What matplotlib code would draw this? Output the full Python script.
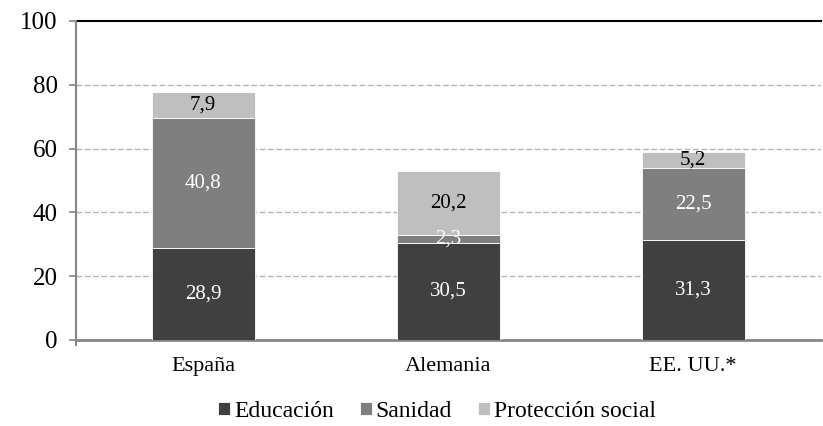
import matplotlib.pyplot as plt
import numpy as np

paises = ["España", "Alemania", "EE. UU.*"]
educacion = [28.9, 30.5, 31.3]
sanidad = [40.8, 2.3, 22.5]
proteccion = [7.9, 20.2, 5.2]
series = ["Educación", "Sanidad", "Protección social"]
yticks = [0, 20, 40, 60, 80, 100]

plt.rcParams['font.family'] = ['Liberation Serif', 'DejaVu Serif']

fig = plt.figure(figsize=(8.23, 4.26), dpi=100)
ax = fig.add_axes([0.092, 0.202, 0.905, 0.749])

x = np.arange(len(paises))
w = 0.42
colores = ["#404040", "#7f7f7f", "#bfbfbf"]
txtcol = ["white", "white", "black"]

bottom = np.zeros(len(paises))
bars = []
for vals, c, tc, name in zip([educacion, sanidad, proteccion], colores, txtcol, series):
    b = ax.bar(x, vals, w, bottom=bottom, color=c, edgecolor="white", linewidth=0.6, label=name, zorder=3)
    bars.append(b)
    for xi, v, bt in zip(x, vals, bottom):
        ax.text(xi, bt + v / 2, f"{v:.1f}".replace(".", ","), ha="center", va="center",
                color=tc, fontsize=15, zorder=4)
    bottom = bottom + np.array(vals)

ax.set_xlim(-0.52, 2.52)
ax.set_ylim(0, 100)
ax.set_yticks(yticks)
ax.set_yticklabels([str(t) for t in yticks], fontsize=18)
ax.set_xticks(x)
ax.set_xticklabels(paises, fontsize=16)
ax.tick_params(axis="x", length=0, pad=12)
ax.tick_params(axis="y", length=5, color="#868686", width=1.2, pad=8)

for t in yticks[1:-1]:
    ax.axhline(t, color="#b4b4b4", linestyle=(0, (4, 2)), linewidth=1, zorder=1)
ax.axhline(100, color="black", linewidth=1.5, zorder=2, clip_on=False)

ax.spines["right"].set_visible(False)
ax.spines["top"].set_visible(False)
ax.spines["left"].set_color("#868686")
ax.spines["left"].set_linewidth(1.5)
ax.spines["left"].set_bounds(-1.5, 100)
ax.spines["bottom"].set_color("#868686")
ax.spines["bottom"].set_linewidth(2)

leg = fig.legend(handles=bars, labels=series, loc="center",
                 bbox_to_anchor=(0.531, 0.034), ncol=3, frameon=False, fontsize=17,
                 handlelength=0.5, handleheight=0.5, handletextpad=0.17, columnspacing=1.1,
                 borderpad=0.1)
for t in leg.get_texts():
    t.set_fontfamily(["Liberation Serif", "DejaVu Serif"])

fig.savefig("out.png", dpi=100)
